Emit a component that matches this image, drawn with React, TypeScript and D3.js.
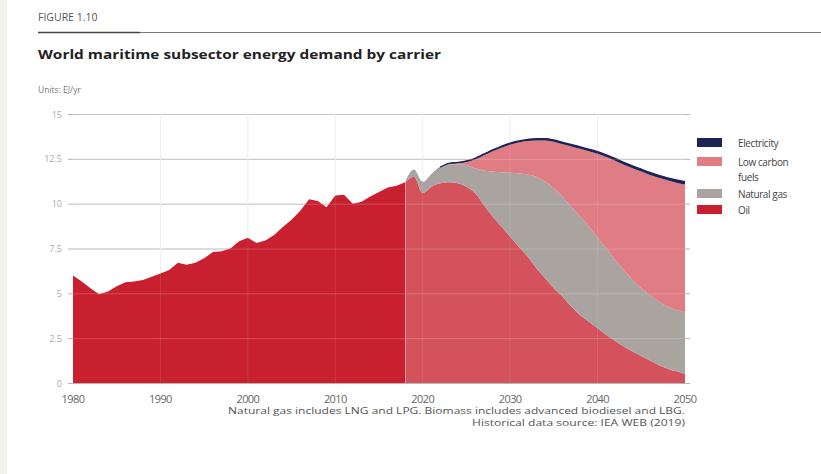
import { useEffect, useRef } from "react";
import * as d3 from "d3";

// historic oil demand 1980-2017 (EJ/yr)
const historicYears = [
  1980, 1981, 1982, 1983, 1984, 1985, 1986, 1987, 1988, 1989, 1990, 1991, 1992,
  1993, 1994, 1995, 1996, 1997, 1998, 1999, 2000, 2001, 2002, 2003, 2004, 2005,
  2006, 2007, 2008, 2009, 2010, 2011, 2012, 2013, 2014, 2015, 2016, 2017,
];
const historicOil = [
  6.0, 5.66, 5.29, 4.95, 5.1, 5.4, 5.62, 5.66, 5.75, 5.92, 6.1, 6.3, 6.7, 6.6,
  6.7, 6.95, 7.3, 7.35, 7.5, 7.9, 8.1, 7.8, 7.95, 8.25, 8.7, 9.1, 9.6, 10.25,
  10.15, 9.8, 10.45, 10.5, 10.0, 10.1, 10.4, 10.65, 10.9, 11.0,
];

// projection 2018-2050
const projYears = [
  2018, 2019, 2020, 2021, 2022, 2023, 2024, 2025, 2026, 2027, 2028, 2029, 2030,
  2031, 2032, 2033, 2034, 2035, 2036, 2037, 2038, 2039, 2040, 2041, 2042, 2043,
  2044, 2045, 2046, 2047, 2048, 2049, 2050,
];
const projOil = [
  11.2, 11.5, 10.6, 10.95, 11.14, 11.19, 11.14, 10.95, 10.58, 9.93, 9.28, 8.72,
  8.16, 7.6, 7.05, 6.4, 5.84, 5.28, 4.81, 4.26, 3.79, 3.42, 3.05, 2.68, 2.36,
  2.03, 1.75, 1.51, 1.25, 1.0, 0.8, 0.65, 0.5,
];
const projGas = [
  0.05, 0.4, 0.6, 0.7, 0.86, 1.01, 1.06, 1.2, 1.39, 1.92, 2.51, 3.03, 3.57,
  4.09, 4.57, 5.1, 5.39, 5.58, 5.58, 5.57, 5.49, 5.3, 5.07, 4.83, 4.5, 4.27,
  3.99, 3.77, 3.66, 3.54, 3.46, 3.42, 3.45,
];
const projLowCarbon = [
  0, 0, 0, 0, 0.02, 0.02, 0.06, 0.18, 0.5, 0.85, 1.13, 1.37, 1.56, 1.72, 1.87,
  2.02, 2.29, 2.59, 2.92, 3.36, 3.78, 4.2, 4.66, 5.09, 5.53, 5.87, 6.23, 6.51,
  6.69, 6.9, 7.04, 7.1, 7.12,
];
const projElectricity = [
  0, 0, 0.01, 0.01, 0.02, 0.03, 0.04, 0.05, 0.06, 0.07, 0.08, 0.08, 0.09, 0.09,
  0.09, 0.1, 0.1, 0.1, 0.11, 0.11, 0.11, 0.12, 0.12, 0.12, 0.13, 0.13, 0.13,
  0.13, 0.14, 0.14, 0.14, 0.15, 0.15,
];

const yTicks = [0, 2.5, 5, 7.5, 10, 12.5, 15];
const xTicks = [1980, 1990, 2000, 2010, 2020, 2030, 2040, 2050];

const legendItems = [
  { key: "electricity", label: ["Electricity"], color: "#1c2455" },
  { key: "lowCarbon", label: ["Low carbon", "fuels"], color: "#e47c83" },
  { key: "gas", label: ["Natural gas"], color: "#aaa4a0" },
  { key: "oil", label: ["Oil"], color: "#c8202e" },
];

const App = () => {
  const ref = useRef<SVGSVGElement>(null);

  useEffect(() => {
    if (!ref.current) return;
    const svg = d3.select(ref.current);
    svg.selectAll("*").remove();

    const width = 821;
    const height = 474;
    const font = "'Open Sans', 'Noto Sans', sans-serif";

    svg.attr("width", width).attr("height", height);

    svg.append("rect").attr("width", width).attr("height", height).attr("fill", "#fff");
    svg.append("rect").attr("width", 7).attr("height", height).attr("fill", "#eef6ec");

    // header
    svg
      .append("text")
      .attr("x", 38)
      .attr("y", 21)
      .attr("font-family", font)
      .attr("font-size", 10.5)
      .attr("fill", "#555")
      .text("FIGURE 1.10");
    svg.append("line").attr("x1", 38).attr("x2", 821).attr("y1", 32.5).attr("y2", 32.5)
      .attr("stroke", "#777").attr("stroke-width", 1);
    svg.append("line").attr("x1", 38).attr("x2", 140).attr("y1", 32.5).attr("y2", 32.5)
      .attr("stroke", "#444").attr("stroke-width", 1.5);
    svg
      .append("text")
      .attr("x", 38)
      .attr("y", 59)
      .attr("font-family", font)
      .attr("font-size", 12.5)
      .attr("font-weight", "bold")
      .attr("fill", "#222")
      .attr("textLength", 403)
      .attr("lengthAdjust", "spacingAndGlyphs")
      .text("World maritime subsector energy demand by carrier");
    svg
      .append("text")
      .attr("x", 38)
      .attr("y", 93)
      .attr("font-family", font)
      .attr("font-size", 8.5)
      .attr("fill", "#777")
      .text("Units: EJ/yr");

    // data table
    type Row = { year: number; oil: number; gas: number; lowCarbon: number; electricity: number };
    const rows: Row[] = [
      ...historicYears.map((year, i) => ({
        year, oil: historicOil[i], gas: 0, lowCarbon: 0, electricity: 0,
      })),
      ...projYears.map((year, i) => ({
        year,
        oil: projOil[i],
        gas: projGas[i],
        lowCarbon: projLowCarbon[i],
        electricity: projElectricity[i],
      })),
    ];

    const x = d3.scaleLinear().domain([1980, 2050]).range([73, 685]);
    const y = d3.scaleLinear().domain([0, 15]).range([383, 114]);

    // gridlines under areas
    const grid = svg.append("g");
    grid
      .selectAll("line.h")
      .data(yTicks)
      .enter()
      .append("line")
      .attr("x1", 68)
      .attr("x2", 690)
      .attr("y1", (d) => y(d) + 0.5)
      .attr("y2", (d) => y(d) + 0.5)
      .attr("stroke", "#b5b5b5")
      .attr("stroke-width", 1);
    grid
      .selectAll("line.v")
      .data(xTicks.slice(1, -1))
      .enter()
      .append("line")
      .attr("x1", (d) => x(d))
      .attr("x2", (d) => x(d))
      .attr("y1", y(15))
      .attr("y2", y(0))
      .attr("stroke", "#ececec")
      .attr("stroke-width", 1);

    const keys = ["oil", "gas", "lowCarbon", "electricity"];
    const stack = d3.stack<Row>().keys(keys);
    const series = stack(rows);

    // historic part is jagged, projection is smooth
    const area = d3
      .area<d3.SeriesPoint<Row>>()
      .x((d) => x(d.data.year))
      .y0((d) => y(d[0]))
      .y1((d) => y(d[1]))
      .curve(d3.curveLinear);
    const smoothArea = d3
      .area<d3.SeriesPoint<Row>>()
      .x((d) => x(d.data.year))
      .y0((d) => y(d[0]))
      .y1((d) => y(d[1]))
      .curve(d3.curveMonotoneX);

    const defs = svg.append("defs");
    defs.append("clipPath").attr("id", "hist")
      .append("rect").attr("x", 0).attr("y", 0).attr("width", x(2018)).attr("height", height);
    defs.append("clipPath").attr("id", "proj")
      .append("rect").attr("x", x(2018)).attr("y", 0).attr("width", width).attr("height", height);

    const colors: Record<string, string> = {
      oil: "#d3525b",
      gas: "#aaa4a0",
      lowCarbon: "#e07c83",
      electricity: "#1c2455",
    };

    const plot = svg.append("g");
    plot
      .selectAll("path.layer")
      .data(series)
      .enter()
      .append("path")
      .attr("d", (s) => smoothArea(s.filter((d) => d.data.year >= 2018)) || "")
      .attr("fill", (s) => colors[s.key])
      .attr("clip-path", "url(#proj)");

    plot
      .append("path")
      .attr("d", area(series[0].filter((d) => d.data.year <= 2018)) || "")
      .attr("fill", "#c8202e")
      .attr("clip-path", "url(#hist)");

    // electricity thin line on top
    const topLine = d3
      .line<d3.SeriesPoint<Row>>()
      .x((d) => x(d.data.year))
      .y((d) => y(d[1]))
      .curve(d3.curveMonotoneX);
    plot
      .append("path")
      .datum(series[3].filter((d) => d.data.year >= 2022))
      .attr("d", (d) => topLine(d) || "")
      .attr("fill", "none")
      .attr("stroke", "#1c2455")
      .attr("stroke-width", 1.4);

    // faint gridlines over the areas
    const over = svg.append("g");
    over
      .selectAll("line")
      .data(yTicks.slice(1))
      .enter()
      .append("line")
      .attr("x1", 73)
      .attr("x2", 685)
      .attr("y1", (d) => y(d) + 0.5)
      .attr("y2", (d) => y(d) + 0.5)
      .attr("stroke", "#fff")
      .attr("stroke-opacity", 0.2);
    over
      .selectAll("line.v")
      .data(xTicks.slice(1, -1))
      .enter()
      .append("line")
      .attr("x1", (d) => x(d))
      .attr("x2", (d) => x(d))
      .attr("y1", y(15))
      .attr("y2", y(0))
      .attr("stroke", "#fff")
      .attr("stroke-opacity", 0.1);

    // axes labels
    svg
      .append("g")
      .selectAll("text")
      .data(yTicks)
      .enter()
      .append("text")
      .attr("x", 62)
      .attr("y", (d) => y(d) + 3.5)
      .attr("text-anchor", "end")
      .attr("font-family", font)
      .attr("font-size", 9)
      .attr("fill", "#aaa")
      .text((d) => String(d));

    svg
      .append("g")
      .selectAll("text")
      .data(xTicks)
      .enter()
      .append("text")
      .attr("x", (d) => x(d))
      .attr("y", 403)
      .attr("text-anchor", "middle")
      .attr("font-family", font)
      .attr("font-size", 11)
      .attr("letter-spacing", -0.6)
      .attr("fill", "#666")
      .text((d) => String(d));

    // footnotes
    svg
      .append("text")
      .attr("x", 685)
      .attr("y", 414)
      .attr("text-anchor", "end")
      .attr("font-family", font)
      .attr("font-size", 9.5)
      .attr("fill", "#555")
      .attr("textLength", 457)
      .attr("lengthAdjust", "spacingAndGlyphs")
      .text("Natural gas includes LNG and LPG. Biomass includes advanced biodiesel and LBG.");
    svg
      .append("text")
      .attr("x", 685)
      .attr("y", 426)
      .attr("text-anchor", "end")
      .attr("font-family", font)
      .attr("font-size", 9.5)
      .attr("fill", "#555")
      .attr("textLength", 213)
      .attr("lengthAdjust", "spacingAndGlyphs")
      .text("Historical data source: IEA WEB (2019)");

    // legend
    const legendY = [138, 157, 189, 205];
    const legend = svg.append("g");
    const items = legend
      .selectAll("g")
      .data(legendItems)
      .enter()
      .append("g")
      .attr("transform", (_d, i) => `translate(697, ${legendY[i]})`);
    items.append("rect").attr("width", 25).attr("height", 9).attr("fill", (d) => d.color);
    items
      .append("text")
      .attr("x", 41)
      .attr("y", 8.5)
      .attr("font-family", font)
      .attr("font-size", 10)
      .attr("letter-spacing", -0.4)
      .attr("fill", "#444")
      .each(function (d) {
        const t = d3.select(this);
        d.label.forEach((line, i) => {
          t.append("tspan").attr("x", 41).attr("dy", i === 0 ? 0 : 15).text(line);
        });
      });
  }, []);

  return (
    <svg
      ref={ref}
      style={{ position: "absolute", left: 0, top: 0, display: "block" }}
    ></svg>
  );
};

export default App;
